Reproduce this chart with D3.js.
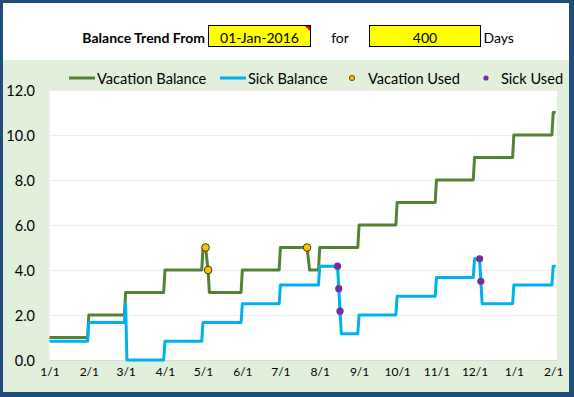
<!DOCTYPE html>
<html>
<head>
<meta charset="utf-8">
<script src="https://cdn.jsdelivr.net/npm/d3@7"></script>
<style>
  html, body { margin: 0; padding: 0; background: #fff; }
  svg { display: block; }
  text { font-family: Lato, "Open Sans", sans-serif; fill: #000; }
</style>
</head>
<body>
<svg id="chart" width="574" height="397"></svg>
<script>
// ---------------- DATA ----------------
const startDate = "01-Jan-2016";
const numDays = "400";

const vacationDates = [
  "2016-01-01","2016-01-31","2016-02-01","2016-02-29","2016-03-01","2016-03-31",
  "2016-04-01","2016-04-30","2016-05-01","2016-05-03","2016-05-05","2016-05-06",
  "2016-05-31","2016-06-01","2016-06-30","2016-07-01","2016-07-22","2016-07-24",
  "2016-07-31","2016-08-01","2016-08-31","2016-09-01","2016-09-30","2016-10-01",
  "2016-10-31","2016-11-01","2016-11-30","2016-12-01","2016-12-31","2017-01-01",
  "2017-01-31","2017-02-01","2017-02-03"
];
const vacationValues = [
  1,1,2,2,3,3,
  4,4,5,5,4,3,
  3,4,4,5,5,4,
  4,5,5,6,6,7,
  7,8,8,9,9,10,
  10,11,11
];

const sickDates = [
  "2016-01-01","2016-01-31","2016-02-01","2016-02-29","2016-03-01","2016-03-02",
  "2016-03-31","2016-04-01","2016-04-30","2016-05-01","2016-05-31","2016-06-01",
  "2016-06-30","2016-07-01","2016-07-31","2016-08-01","2016-08-15","2016-08-16",
  "2016-08-17","2016-08-18","2016-08-31","2016-09-01","2016-09-30","2016-10-01",
  "2016-10-31","2016-11-01","2016-11-30","2016-12-01","2016-12-05","2016-12-06",
  "2016-12-07","2016-12-31","2017-01-01","2017-01-31","2017-02-01","2017-02-03"
];
const sickValues = [
  0.83,0.83,1.67,1.67,2.5,0,
  0,0.83,0.83,1.67,1.67,2.5,
  2.5,3.33,3.33,4.17,4.17,3.17,
  2.17,1.17,1.17,2,2,2.83,
  2.83,3.67,3.67,4.5,4.5,3.5,
  2.5,2.5,3.33,3.33,4.17,4.17
];

const vacationUsedDates = ["2016-05-03","2016-05-05","2016-07-22"];
const vacationUsedValues = [5,4,5];

const sickUsedDates = ["2016-08-15","2016-08-16","2016-08-17","2016-12-05","2016-12-06"];
const sickUsedValues = [4.17,3.17,2.17,4.5,3.5];

const xTickDates = [
  "2016-01-01","2016-02-01","2016-03-01","2016-04-01","2016-05-01","2016-06-01","2016-07-01",
  "2016-08-01","2016-09-01","2016-10-01","2016-11-01","2016-12-01","2017-01-01","2017-02-01"
];
const yTickValues = [0,2,4,6,8,10,12];
const xDomain = ["2016-01-01","2017-02-04"];
const yDomain = [0,12];

const seriesNames = ["Vacation Balance","Sick Balance","Vacation Used","Sick Used"];

// ---------------- DRAW ----------------
const parse = d3.utcParse("%Y-%m-%d");
const svg = d3.select("#chart");

const COL = {
  frame: "#1F4E79", chartBg: "#E2EFDA", green: "#548235", blue: "#00B0F0",
  orange: "#FFC000", purple: "#7030A0", grid: "#EDEDED", axis: "#D9D9D9"
};

// frame & backgrounds
svg.append("rect").attr("x",0).attr("y",0).attr("width",574).attr("height",397).attr("fill",COL.frame);
svg.append("rect").attr("x",3).attr("y",3).attr("width",566).attr("height",57).attr("fill","#fff");
svg.append("rect").attr("x",3).attr("y",60).attr("width",566).attr("height",332).attr("fill",COL.chartBg);

// header
const hdrY = 37;
svg.append("text").attr("x",205).attr("y",hdrY).attr("text-anchor","end")
  .attr("dominant-baseline","central").style("font-weight","bold").style("font-size","14px")
  .text("Balance Trend From");
svg.append("rect").attr("x",208.5).attr("y",25.5).attr("width",102).attr("height",21)
  .attr("fill","#FFFF00").attr("stroke","#000").attr("stroke-width",1);
svg.append("path").attr("d","M305,26 L310,26 L310,31 Z").attr("fill","#E00000");
svg.append("text").attr("x",259.5).attr("y",hdrY).attr("text-anchor","middle")
  .attr("dominant-baseline","central").style("font-size","14px").text(startDate);
svg.append("text").attr("x",340).attr("y",hdrY).attr("text-anchor","middle")
  .attr("dominant-baseline","central").style("font-size","14px").text("for");
svg.append("rect").attr("x",369.5).attr("y",25.5).attr("width",111).attr("height",21)
  .attr("fill","#FFFF00").attr("stroke","#000").attr("stroke-width",1);
svg.append("text").attr("x",425).attr("y",hdrY).attr("text-anchor","middle")
  .attr("dominant-baseline","central").style("font-size","14px").text(numDays);
svg.append("text").attr("x",483.5).attr("y",hdrY).attr("text-anchor","start")
  .attr("dominant-baseline","central").style("font-size","14px").text("Days");

// scales
const x = d3.scaleUtc().domain(xDomain.map(parse)).range([49.5, 557]);
const y = d3.scaleLinear().domain(yDomain).range([360, 90]);

// plot area
svg.append("rect").attr("x",x.range()[0]).attr("y",90).attr("width",x.range()[1]-x.range()[0])
  .attr("height",270).attr("fill","#fff");

// gridlines
svg.append("g").selectAll("line").data(yTickValues.filter(v => v > 0)).join("line")
  .attr("x1",x.range()[0]).attr("x2",x.range()[1])
  .attr("y1",d => Math.round(y(d))+0.5).attr("y2",d => Math.round(y(d))+0.5)
  .attr("stroke",COL.grid).attr("stroke-width",1);

// y axis
const yAxis = d3.axisLeft(y).tickValues(yTickValues).tickFormat(d3.format(".1f")).tickSize(0).tickPadding(0);
const gy = svg.append("g").attr("transform","translate(35,0)").call(yAxis);
gy.select(".domain").remove();
gy.selectAll("text").style("font-family","Lato, sans-serif").style("font-size","14.5px").attr("fill","#000").attr("dy","0.35em");

// x axis
const xAxis = d3.axisBottom(x).tickValues(xTickDates.map(parse)).tickFormat(d3.utcFormat("%-m/%-d")).tickSize(0).tickPadding(0);
const gx = svg.append("g").attr("transform","translate(0,360)").call(xAxis);
gx.select(".domain").attr("stroke",COL.axis).attr("d",`M${x.range()[0]},0.5H${x.range()[1]}`);
gx.selectAll("text").style("font-family","Lato, sans-serif").style("font-size","12px").attr("fill","#000").attr("y",12).attr("dy","0.35em");

// lines
const line = d3.line().x(d => x(d[0])).y(d => y(d[1]));
const vacData = vacationDates.map((d,i) => [parse(d), vacationValues[i]]);
const sickData = sickDates.map((d,i) => [parse(d), sickValues[i]]);

svg.append("path").datum(vacData).attr("d",line).attr("fill","none")
  .attr("stroke",COL.green).attr("stroke-width",3).attr("stroke-linejoin","round");
svg.append("path").datum(sickData).attr("d",line).attr("fill","none")
  .attr("stroke",COL.blue).attr("stroke-width",3).attr("stroke-linejoin","round");

// markers
svg.append("g").selectAll("circle").data(vacationUsedDates.map((d,i)=>[parse(d),vacationUsedValues[i]])).join("circle")
  .attr("cx",d=>x(d[0])).attr("cy",d=>y(d[1])).attr("r",3.8)
  .attr("fill",COL.orange).attr("stroke","#3a2a00").attr("stroke-width",0.9);
svg.append("g").selectAll("circle").data(sickUsedDates.map((d,i)=>[parse(d),sickUsedValues[i]])).join("circle")
  .attr("cx",d=>x(d[0])).attr("cy",d=>y(d[1])).attr("r",3.6)
  .attr("fill",COL.purple);

// legend
const lg = svg.append("g");
const legY = 78;
const legFont = "14.6px";
lg.append("line").attr("x1",69).attr("x2",95).attr("y1",legY).attr("y2",legY).attr("stroke",COL.green).attr("stroke-width",3);
lg.append("text").attr("x",97).attr("y",legY).attr("dominant-baseline","central").style("font-size",legFont).text(seriesNames[0]);
lg.append("line").attr("x1",220).attr("x2",246).attr("y1",legY).attr("y2",legY).attr("stroke",COL.blue).attr("stroke-width",3);
lg.append("text").attr("x",248).attr("y",legY).attr("dominant-baseline","central").style("font-size",legFont).text(seriesNames[1]);
lg.append("circle").attr("cx",352).attr("cy",legY).attr("r",2.6).attr("fill",COL.orange).attr("stroke","#3a2a00").attr("stroke-width",0.8);
lg.append("text").attr("x",368).attr("y",legY).attr("dominant-baseline","central").style("font-size",legFont).text(seriesNames[2]);
lg.append("circle").attr("cx",486).attr("cy",legY).attr("r",2.6).attr("fill",COL.purple);
lg.append("text").attr("x",501).attr("y",legY).attr("dominant-baseline","central").style("font-size",legFont).text(seriesNames[3]);
</script>
</body>
</html>
